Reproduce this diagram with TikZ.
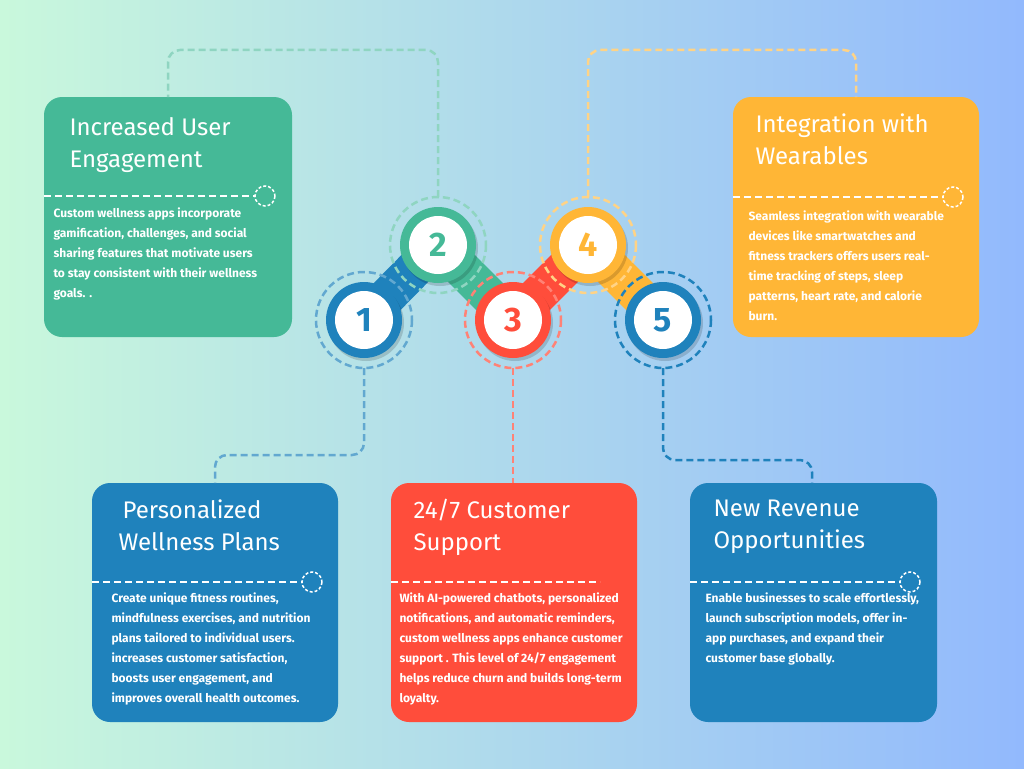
\documentclass[tikz,border=0pt]{standalone}
\usepackage{fontspec}
\setmainfont{Fira Sans}
\usetikzlibrary{positioning,calc}
\definecolor{cgreen}{HTML}{45B997}
\definecolor{cblue}{HTML}{1F82BC}
\definecolor{cred}{HTML}{FF4D3B}
\definecolor{cyellow}{HTML}{FFB636}
\definecolor{bgleft}{HTML}{C9F8DC}
\definecolor{bgright}{HTML}{92B9FD}

\begin{document}
\begin{tikzpicture}[x=1pt, y=-1pt,
  card/.style = {rounded corners=18pt, inner sep=0pt},
  title/.style = {anchor=north west, align=left, text=white, font=\fontsize{24}{32}\selectfont},
  body/.style = {anchor=north west, align=left, text=white, font=\fontsize{12}{20}\selectfont\bfseries},
  sep/.style = {white, dashed, line width=1.5pt, dash pattern=on 7pt off 4pt},
  link/.style = {dashed, line width=2.5pt, dash pattern=on 7pt off 4pt, rounded corners=12pt},
  band/.style = {line width=38pt}]
\shade[left color=bgleft, right color=bgright] (0,0) rectangle (1024,768);
\useasboundingbox (0,0) rectangle (1024,768);
% cards
\fill[card, cgreen] (44,97) rectangle (292,337);
\fill[card, cyellow] (733,97) rectangle (979,337);
\fill[card, cblue] (92,483) rectangle (338,722);
\fill[card, cred] (391,483) rectangle (637,722);
\fill[card, cblue] (690,483) rectangle (937,722);
\node[title] (t1) at (66,114) {Increased User\\Engagement};
\node[title] (t4) at (752,110) {Integration with\\Wearables};
\node[title] (t2) at (115,496) {\,Personalized\\Wellness Plans};
\node[title] (t3) at (410,496) {24/7 Customer\\Support};
\node[title] (t5) at (710,496) {New Revenue\\Opportunities};
\draw[sep] (44,196) -- (255,196); \draw[sep, dash pattern=on 3pt off 2pt] (265,196) circle (10);
\draw[sep] (733,197) -- (943,197); \draw[sep, dash pattern=on 3pt off 2pt] (953,197) circle (10);
\draw[sep] (92,582) -- (302,582); \draw[sep, dash pattern=on 3pt off 2pt] (312,582) circle (10);
\draw[sep] (391,582) -- (600,582);
\draw[sep] (690,582) -- (900,582); \draw[sep, dash pattern=on 3pt off 2pt] (910,582) circle (10);
\node[body] (b1) at (50,204) {Custom wellness apps incorporate\\gamification, challenges, and social\\sharing features that motivate users\\to stay consistent with their wellness\\goals. .};
\node[body] (b4) at (745,207) {Seamless integration with wearable\\devices like smartwatches and\\fitness trackers offers users real-\\time tracking of steps, sleep\\patterns, heart rate, and calorie\\burn.};
\node[body] (b2) at (108,589) {Create unique fitness routines,\\mindfulness exercises, and nutrition\\plans tailored to individual users.\\increases customer satisfaction,\\boosts user engagement, and\\improves overall health outcomes.};
\node[body] (b3) at (396,589) {With AI-powered chatbots, personalized\\notifications, and automatic reminders,\\custom wellness apps enhance customer\\support . This level of 24/7 engagement\\helps reduce churn and builds long-term\\loyalty.};
\node[body] (b5) at (702,589) {Enable businesses to scale effortlessly,\\launch subscription models, offer in-\\app purchases, and expand their\\customer base globally.};
% chain
\coordinate (c1) at (364,320); \coordinate (c2) at (438,245);
\coordinate (c3) at (513,320); \coordinate (c4) at (588,245);
\coordinate (c5) at (663,320);
\draw[band, cblue] (c1) -- (c2);
\draw[band, cgreen] (c2) -- (c3);
\draw[band, cred] (c3) -- (c4);
\draw[band, cyellow] (c4) -- (c5);
\foreach \c/\col/\n in {c1/cblue/1, c2/cgreen/2, c3/cred/3, c4/cyellow/4, c5/cblue/5} {
  \fill[black, opacity=0.15] ($(\c)+(2,3)$) circle (38);
  \fill[\col] (\c) circle (38);
  \fill[white] (\c) circle (29);
  \node[text=\col, font=\fontsize{34}{34}\selectfont\bfseries] at (\c) {\n};
}
\draw[link, cblue!70] (c1) circle (48);
\draw[link, cgreen!60] (c2) circle (48);
\draw[link, cred!70] (c3) circle (48);
\draw[link, cyellow!60] (c4) circle (48);
\draw[link, cblue] (c5) circle (48);
% leaders
\draw[link, cgreen!60] (438,197) -- (438,50) -- (168,50) -- (168,97);
\draw[link, cyellow!60] (588,197) -- (588,50) -- (856,50) -- (856,97);
\draw[link, cblue!70] (364,368) -- (364,455) -- (215,455) -- (215,483);
\draw[link, cred!70] (513,368) -- (513,483);
\draw[link, cblue] (663,368) -- (663,460) -- (812,460) -- (812,483);
\end{tikzpicture}
\end{document}
